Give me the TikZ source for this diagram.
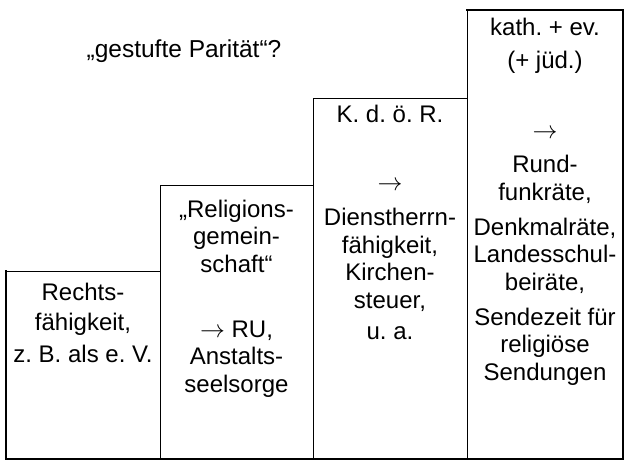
\documentclass[tikz,border=0pt]{standalone}
\usepackage{fontspec}
\setmainfont{Liberation Sans}
\usetikzlibrary{positioning}
\frenchspacing
\tikzset{stufe/.style={draw=black,line width=1pt,anchor=south west,inner sep=0pt},
 rand/.style={draw=black,line width=2.8pt,line cap=rect},
 txt/.style={align=center,inner sep=0pt,anchor=base,
 font=\fontsize{24}{27.5}\selectfont}}

\begin{document}
\begin{tikzpicture}[x=1pt,y=-1pt]
\useasboundingbox (0,0) rectangle (632,468);
% Stufen
\node[stufe,minimum width=154pt,minimum height=187pt] (s1) at (6,459) {};
\node[stufe,minimum width=153pt,minimum height=273pt] (s2) at (160,459) {};
\node[stufe,minimum width=154pt,minimum height=360pt] (s3) at (313,459) {};
\node[stufe,minimum width=155pt,minimum height=448pt] (s4) at (467,459) {};
\draw[rand] (s1.north west)--(s1.south west)--(s4.south east)--(s4.north east)--(s4.north west);
% Texte (Grundlinie der letzten Zeile)
\node[txt,font=\fontsize{24.5}{28}\selectfont] (titel) at (184,58) {„gestufte Parität“?};
\node[txt] (t1) at (83,362) {Rechts-\\[2.5pt]fähigkeit,\\[4.5pt]z. B. als e. V.};
\node[txt] (t2) at (236.5,392) {„Religions-\\gemein-\\schaft“\\[37.5pt]$\rightarrow$ RU,\\Anstalts-\\seelsorge};
\node[txt] (t3) at (390,339) {K. d. ö. R.\\[40.5pt]$\rightarrow$\\[8pt]Dienstherrn-\\fähigkeit,\\Kirchen-\\steuer,\\[3.5pt]u. a.};
\node[txt] (t4) at (545,380) {kath. + ev.\\[5.5pt](+ jüd.)\\[42.5pt]$\rightarrow$\\[6.5pt]Rund-\\funkräte,\\[7.5pt]Denkmalräte,\\Landesschul-\\beiräte,\\[7.5pt]Sendezeit für\\religiöse\\Sendungen};
\end{tikzpicture}
\end{document}
